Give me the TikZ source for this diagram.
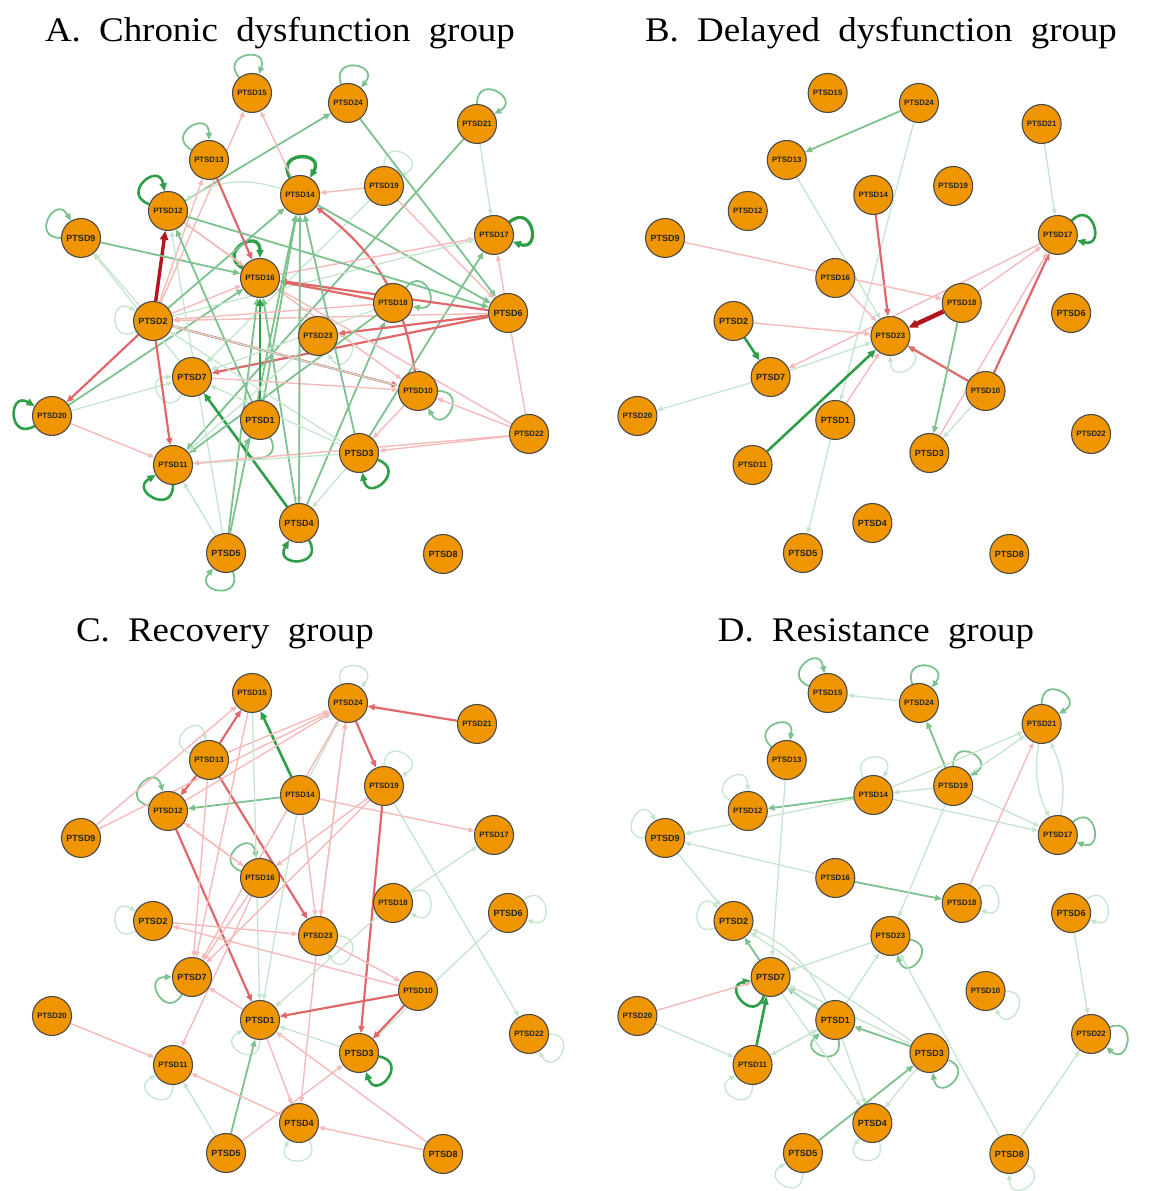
\documentclass[tikz,border=0pt]{standalone}
\usepackage{fontspec}
\usepackage{graphicx}
\setmainfont{Liberation Serif}
\newfontfamily\labfont{Liberation Sans}
\usetikzlibrary{arrows.meta}
\pgfdeclarelayer{edges}
\pgfsetlayers{edges,main}

\definecolor{nodefill}{HTML}{EE9500}
\definecolor{nodeline}{HTML}{4A4A4A}
\definecolor{gS}{HTML}{2E9E48}
\definecolor{gM}{HTML}{7DC28E}
\definecolor{gL}{HTML}{C5E5CD}
\definecolor{rS}{HTML}{B4141C}
\definecolor{rM}{HTML}{E0676A}
\definecolor{rL}{HTML}{F6BABA}

\tikzset{
  ptlong/.style={circle, draw=nodeline, line width=1.1pt, fill=nodefill,
    minimum size=39pt, inner sep=0pt, text=black!85,
    font=\labfont\bfseries\fontsize{7.8}{8}\selectfont},
  ptshort/.style={ptlong, font=\labfont\bfseries\fontsize{9}{9}\selectfont},
  gs/.style={draw=gS, line width=2.6pt, -{Triangle[length=8pt,width=7pt]}},
  gm/.style={draw=gM, line width=1.8pt, -{Triangle[length=7pt,width=6pt]}},
  gl/.style={draw=gL, line width=1.3pt, -{Triangle[length=6pt,width=5pt]}},
  rs/.style={draw=rS, line width=3.4pt, -{Triangle[length=9pt,width=8pt]}},
  rm/.style={draw=rM, line width=2.2pt, -{Triangle[length=7pt,width=6pt]}},
  rl/.style={draw=rL, line width=1.4pt, -{Triangle[length=6pt,width=5pt]}},
  title/.style={anchor=base, inner sep=0pt, font=\fontsize{34.5}{40}\selectfont}
}

% one symptom node; #1 style, #2 number, #3 x, #4 y (measured from the top)
\newcommand\ptsd[4]{\node[#1] (\pfx#2) at ({#3},{1191-#4}) {PTSD#2};}
% directed edge between two symptoms of the current panel
\newcommand\ed[3]{\draw[#1] (\pfx#2) to (\pfx#3);}
% self loop on a symptom, pointing in direction #3
\newcommand\lp[3]{\pgfmathsetmacro\lpA{#3+30}\pgfmathsetmacro\lpB{#3-30}%
  \draw[#1] (\pfx#2) to[out=\lpA,in=\lpB,distance=31pt] (\pfx#2);}

\newcommand\placenodes{%
  \ptsd{ptshort}{1}{260}{420}
  \ptsd{ptshort}{2}{153}{321}
  \ptsd{ptshort}{3}{359}{453}
  \ptsd{ptshort}{4}{299}{523}
  \ptsd{ptshort}{5}{226}{553}
  \ptsd{ptshort}{6}{508}{313}
  \ptsd{ptshort}{7}{192}{377}
  \ptsd{ptshort}{8}{443}{554}
  \ptsd{ptshort}{9}{81}{238}
  \ptsd{ptlong}{10}{418}{391}
  \ptsd{ptlong}{11}{173}{465}
  \ptsd{ptlong}{12}{168}{211}
  \ptsd{ptlong}{13}{209}{160}
  \ptsd{ptlong}{14}{300}{195}
  \ptsd{ptlong}{15}{252}{93}
  \ptsd{ptlong}{16}{260}{278}
  \ptsd{ptlong}{17}{494}{235}
  \ptsd{ptlong}{18}{393}{303}
  \ptsd{ptlong}{19}{384}{186}
  \ptsd{ptlong}{20}{52}{416}
  \ptsd{ptlong}{21}{477}{124}
  \ptsd{ptlong}{22}{529}{434}
  \ptsd{ptlong}{23}{318}{336}
  \ptsd{ptlong}{24}{348}{103}%
}

\begin{document}
\begin{tikzpicture}[x=1pt,y=1pt]
\useasboundingbox (0,0) rectangle (1156,1191);

\node[title] (ta) at (280,1149) {\scalebox{1.07}[1]{A.\hspace{17pt}Chronic\hspace{17pt}dysfunction\hspace{17pt}group}};
\node[title] (tb) at (881,1149) {\scalebox{1.07}[1]{B.\hspace{17pt}Delayed\hspace{17pt}dysfunction\hspace{17pt}group}};
\node[title] (tc) at (225,549) {\scalebox{1.07}[1]{C.\hspace{17pt}Recovery\hspace{17pt}group}};
\node[title] (td) at (876,549) {\scalebox{1.07}[1]{D.\hspace{17pt}Resistance\hspace{17pt}group}};

% ---------------- A. Chronic dysfunction group ----------------
\def\pfx{a}
\begin{scope}
\placenodes
\begin{pgfonlayer}{edges}
  \lp{gm}{15}{100} \lp{gm}{24}{80} \lp{gm}{21}{60} \lp{gm}{13}{120}
  \lp{gs,line width=3.4pt}{14}{90} \lp{gl}{19}{60} \lp{gs}{12}{130}
  \lp{gs,line width=3.2pt}{17}{10} \lp{gm}{9}{150} \lp{gs,line width=3.4pt}{16}{120}
  \lp{gm}{18}{20} \lp{gl}{2}{180} \lp{gl}{7}{210} \lp{gs}{20}{180}
  \lp{gm}{1}{270} \lp{gm}{10}{330} \lp{gs}{3}{310} \lp{gs}{11}{240}
  \lp{gs}{4}{270} \lp{gm}{5}{260} \lp{gl}{23}{330}
  \ed{rs}{2}{12} \ed{rm}{2}{20} \ed{gm}{20}{16} \ed{gl}{20}{7} \ed{rl}{20}{11}
  \ed{rm}{2}{11} \ed{gl}{2}{9} \ed{gl}{7}{9} \ed{gm}{9}{16} \ed{gm}{12}{24}
  \ed{gm}{24}{6} \ed{gl}{21}{17} \ed{gm}{21}{11} \ed{rl}{19}{14} \ed{rl}{19}{6}
  \ed{gl}{19}{7} \ed{rm,bend right=22}{10}{14} \ed{gm}{14}{6} \ed{rl}{16}{17}
  \ed{gl}{2}{17} \ed{gm}{3}{17} \ed{rl}{22}{17} \ed{gm}{4}{18} \ed{rm}{6}{16}
  \ed{rl}{6}{2} \ed{rm}{6}{7} \ed{rm}{6}{23} \ed{rm}{18}{16} \ed{rl}{22}{10}
  \ed{rl}{22}{3} \ed{rl}{22}{16} \ed{rl}{10}{3} \ed{rm}{2}{10} \ed{rl}{12}{10}
  \ed{gl}{3}{4} \ed{rl}{14}{4} \ed{gs}{4}{7} \ed{gm}{4}{16} \ed{gm}{5}{16}
  \ed{gm}{5}{14} \ed{gs}{1}{16} \ed{gm}{1}{14} \ed{gl}{5}{12} \ed{gl}{5}{11}
  \ed{gl}{3}{11} \ed{rl}{22}{11} \ed{gm}{18}{11} \ed{gl}{23}{11} \ed{rl}{2}{16}
  \ed{gm}{2}{14} \ed{gl}{16}{12} \ed{rl}{12}{16} \ed{gl,bend right=25}{14}{12}
  \ed{rm}{13}{16} \ed{rl}{2}{15} \ed{rl}{2}{13} \ed{gm}{1}{12} \ed{gm}{12}{6}
  \ed{rl}{14}{15} \ed{rl}{18}{2} \ed{rl}{7}{10} \ed{gm}{3}{14} \ed{gl}{3}{2}
  \ed{gl}{10}{2} \ed{gl}{18}{7} \ed{gm}{4}{14} \ed{gl}{3}{7}
\end{pgfonlayer}
\end{scope}

% ---------------- B. Delayed dysfunction group ----------------
\def\pfx{b}
\begin{scope}[xshift=588pt, xscale=0.951]
\placenodes
\begin{pgfonlayer}{edges}
  \lp{gs}{17}{15} \lp{gl}{23}{300}
  \ed{gm}{24}{13} \ed{gl}{24}{1} \ed{gl}{1}{5} \ed{gl}{13}{23} \ed{rm}{14}{23}
  \ed{rl}{9}{18} \ed{rl}{16}{23} \ed{gl}{21}{17} \ed{rs,line width=4.5pt}{18}{23}
  \ed{rl}{17}{7} \ed{rl}{18}{17} \ed{rm}{10}{17} \ed{rl}{3}{17} \ed{rl}{2}{23}
  \ed{gs}{2}{7} \ed{gl}{7}{23} \ed{gl}{7}{20} \ed{gs}{11}{23} \ed{rl}{1}{23}
  \ed{rm}{10}{23} \ed{gm}{18}{3} \ed{gl}{10}{3}
\end{pgfonlayer}
\end{scope}

% ---------------- C. Recovery group ----------------
\def\pfx{c}
\begin{scope}[yshift=-600pt]
\placenodes
\begin{pgfonlayer}{edges}
  \lp{gl}{24}{80} \lp{gl}{13}{130} \lp{gm}{12}{135} \lp{gl}{19}{60}
  \lp{gm}{16}{130} \lp{gl}{2}{180} \lp{gm}{7}{210} \lp{gl}{18}{0}
  \lp{gl}{6}{10} \lp{gl}{1}{240} \lp{gs}{3}{320} \lp{gl}{11}{240}
  \lp{gl}{4}{270} \lp{gl}{22}{330} \lp{gl}{23}{330}
  \ed{rm}{21}{24} \ed{gs}{14}{15} \ed{rm}{13}{15} \ed{rm}{13}{12} \ed{rl}{9}{15}
  \ed{rl}{9}{24} \ed{gm}{14}{12} \ed{rl}{12}{16} \ed{rl}{16}{12} \ed{rm}{12}{1}
  \ed{rm}{13}{23} \ed{rl}{13}{24} \ed{rl}{12}{24} \ed{rl}{13}{7} \ed{gl}{15}{1}
  \ed{gl}{14}{1} \ed{gl}{14}{24} \ed{rl}{14}{17} \ed{rl}{14}{23} \ed{rm}{24}{19}
  \ed{rl}{24}{7} \ed{rl}{19}{7} \ed{rl}{19}{16} \ed{rl}{23}{24} \ed{rl}{24}{23}
  \ed{rm}{19}{3} \ed{rl}{23}{4} \ed{gl}{19}{22} \ed{gl}{18}{17} \ed{gl}{18}{1}
  \ed{gl}{6}{3} \ed{rm}{10}{1} \ed{rm}{10}{3} \ed{rl}{10}{2} \ed{rl}{2}{23}
  \ed{rl}{23}{10} \ed{gl}{3}{1} \ed{gm}{5}{1} \ed{gl}{5}{11} \ed{rl}{5}{3}
  \ed{rl}{8}{1} \ed{rl}{8}{4} \ed{rl}{4}{11} \ed{rl}{1}{4} \ed{rl}{1}{7}
  \ed{rl}{20}{11} \ed{rl}{16}{11} \ed{rl}{16}{7} \ed{rl}{15}{7}
\end{pgfonlayer}
\end{scope}

% ---------------- D. Resistance group ----------------
\def\pfx{d}
\begin{scope}[xshift=588pt, yshift=-600pt, xscale=0.951]
\placenodes
\begin{pgfonlayer}{edges}
  \lp{gm}{15}{130} \lp{gm}{24}{80} \lp{gm}{21}{60} \lp{gm}{13}{110}
  \lp{gl}{14}{90} \lp{gm}{19}{60} \lp{gl}{12}{120} \lp{gl}{9}{150}
  \lp{gm}{17}{10} \lp{gl}{18}{10} \lp{gl}{6}{10} \lp{gl}{2}{170}
  \lp{gm}{23}{320} \lp{gs}{7}{220} \lp{gl}{10}{330} \lp{gm}{22}{350}
  \lp{gm}{1}{250} \lp{gm}{3}{310} \lp{gl}{11}{240} \lp{gl}{4}{260}
  \lp{gl}{5}{240} \lp{gl}{8}{300}
  \ed{gl}{24}{15} \ed{gm}{19}{24} \ed{gl}{14}{21} \ed{gl}{19}{21}
  \ed{gl,bend right=18}{21}{17} \ed{gl,bend right=18}{17}{21} \ed{gl}{14}{17}
  \ed{gl}{19}{17} \ed{gl}{19}{14} \ed{gm}{14}{12} \ed{gl}{14}{9} \ed{gl}{16}{9}
  \ed{gm}{16}{18} \ed{rl}{18}{21} \ed{gl}{19}{23} \ed{gl}{9}{2} \ed{gl}{13}{7}
  \ed{gl}{23}{7} \ed{gm}{7}{2} \ed{gs}{11}{7} \ed{rl}{20}{7} \ed{gl}{20}{11}
  \ed{gl,bend right=20}{1}{2} \ed{gl}{3}{2} \ed{gm}{1}{7} \ed{gl}{7}{1}
  \ed{gl}{3}{7} \ed{gm}{3}{1} \ed{gl}{1}{11} \ed{gl}{11}{1} \ed{gl}{1}{23}
  \ed{gl}{1}{4} \ed{gl}{7}{4} \ed{gl}{3}{4} \ed{gm}{5}{3} \ed{gl}{8}{23}
  \ed{gl}{8}{22} \ed{gl}{6}{22}
\end{pgfonlayer}
\end{scope}
\end{tikzpicture}
\end{document}
